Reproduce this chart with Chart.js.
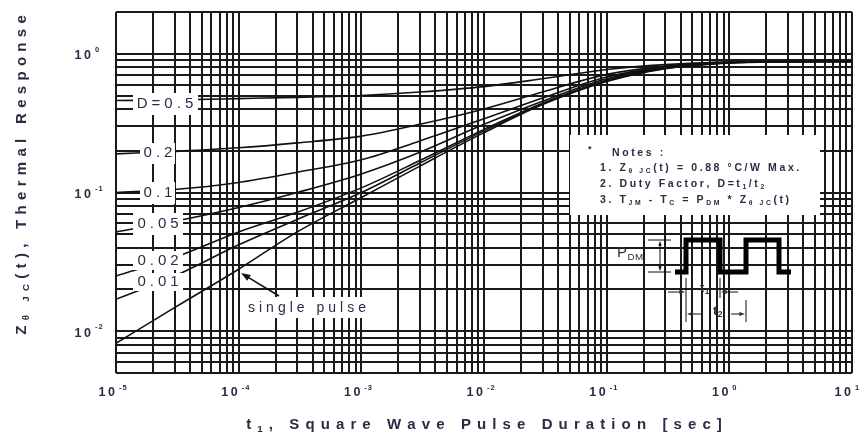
<!DOCTYPE html>
<html>
<head>
<meta charset="utf-8">
<script src="https://cdn.jsdelivr.net/npm/chart.js@4.4.0/dist/chart.umd.min.js"></script>
<style>
  html, body { margin: 0; padding: 0; background: #fff; }
  canvas { display: block; }
</style>
</head>
<body>
<canvas id="zth" width="861" height="439"></canvas>
<script>
// Transient thermal response

const pulseTimes = [1e-5, 3e-5, 1e-4, 3e-4, 1e-3, 3e-3, 1e-2, 3e-2, 1e-1, 3e-1, 1, 3, 10];

const zD05   = [0.46, 0.465, 0.475, 0.485, 0.50, 0.53, 0.58, 0.66, 0.77, 0.835, 0.872, 0.879, 0.88];
const zD02   = [0.19, 0.198, 0.21, 0.228, 0.255, 0.31, 0.40, 0.53, 0.71, 0.815, 0.87, 0.878, 0.88];
const zD01   = [0.10, 0.105, 0.118, 0.14, 0.172, 0.235, 0.34, 0.48, 0.68, 0.805, 0.867, 0.878, 0.88];
const zD005  = [0.052, 0.062, 0.078, 0.10, 0.136, 0.195, 0.31, 0.455, 0.66, 0.795, 0.865, 0.877, 0.88];
const zD002  = [0.025, 0.034, 0.052, 0.072, 0.108, 0.17, 0.285, 0.44, 0.645, 0.79, 0.862, 0.876, 0.88];
const zD001  = [0.017, 0.025, 0.042, 0.064, 0.10, 0.163, 0.278, 0.435, 0.64, 0.785, 0.86, 0.875, 0.88];
const zSingle = [0.0082, 0.0148, 0.028, 0.052, 0.092, 0.155, 0.27, 0.43, 0.63, 0.78, 0.858, 0.875, 0.88];

const seriesNames = ["D=0.5", "0.2", "0.1", "0.05", "0.02", "0.01", "single pulse"];
const seriesValues = [zD05, zD02, zD01, zD005, zD002, zD001, zSingle];

// decades that get a 10^n label
const xExponents = [-5, -4, -3, -2, -1, 0, 1];
const yExponents = [-2, -1, 0];
const xMin = 1e-5, xMax = 10;
const yMin = 0.005, yMax = 2;

const ink = "#2b2b45";
const FONT = '"Liberation Sans", Arial, sans-serif';

// gridlines at 1..9 x 10^n inside the axis range
function logGrid(min, max) {
  const out = [];
  for (let e = Math.floor(Math.log10(min)); e <= Math.ceil(Math.log10(max)); e++) {
    for (let m = 1; m <= 9; m++) {
      const v = Number((m * Math.pow(10, e)).toPrecision(6));
      if (v >= min * 0.999 && v <= max * 1.001) out.push(v);
    }
  }
  return out;
}

// text drawn char by char with spacing; runs are [text, "" | "sub" | "sup"]
function drawRuns(ctx, runs, x, y, o) {
  const size = o.size, sp = o.spacing || 0, weight = o.weight || "normal";
  const parts = runs.map(([text, kind]) => ({
    text,
    s: kind ? size * 0.65 : size,
    dy: kind === "sub" ? size * 0.32 : kind === "sup" ? -size * 0.42 : 0
  }));
  let total = 0;
  parts.forEach(p => {
    ctx.font = weight + " " + p.s + "px " + FONT;
    p.w = 0;
    for (const ch of p.text) p.w += ctx.measureText(ch).width + sp;
    total += p.w;
  });
  total -= sp;
  let cx = o.align === "center" ? x - total / 2 : o.align === "right" ? x - total : x;
  ctx.textBaseline = "middle";
  ctx.textAlign = "left";
  ctx.fillStyle = o.color || ink;
  parts.forEach(p => {
    ctx.font = weight + " " + p.s + "px " + FONT;
    for (const ch of p.text) {
      ctx.fillText(ch, cx, y + p.dy);
      cx += ctx.measureText(ch).width + sp;
    }
  });
}

function arrow(ctx, x1, y1, x2, y2, head, lw) {
  const a = Math.atan2(y2 - y1, x2 - x1);
  ctx.lineWidth = lw;
  ctx.beginPath();
  ctx.moveTo(x1, y1);
  ctx.lineTo(x2 - Math.cos(a) * head * 0.6, y2 - Math.sin(a) * head * 0.6);
  ctx.stroke();
  ctx.beginPath();
  ctx.moveTo(x2, y2);
  ctx.lineTo(x2 - head * Math.cos(a - 0.35), y2 - head * Math.sin(a - 0.35));
  ctx.lineTo(x2 - head * Math.cos(a + 0.35), y2 - head * Math.sin(a + 0.35));
  ctx.closePath();
  ctx.fill();
}

function line(ctx, x1, y1, x2, y2, lw) {
  ctx.lineWidth = lw;
  ctx.beginPath();
  ctx.moveTo(x1, y1);
  ctx.lineTo(x2, y2);
  ctx.stroke();
}

// curve labels: text, centre, white box behind
const curveTags = [
  { text: "D=0.5", x: 165, y: 104, box: [133, 93, 65, 22] },
  { text: "0.2", x: 158, y: 153, box: [140, 143, 35, 21] },
  { text: "0.1", x: 158, y: 193, box: [140, 182, 35, 22] },
  { text: "0.05", x: 158, y: 224, box: [133, 213, 50, 22] },
  { text: "0.02", x: 158, y: 261, box: [133, 251, 50, 19] },
  { text: "0.01", x: 158, y: 282, box: [133, 273, 50, 18] }
];

const annotate = {
  id: "annotate",
  beforeDraw(chart) {
    const ctx = chart.ctx;
    ctx.save();
    ctx.fillStyle = "#fff";
    ctx.fillRect(0, 0, chart.width, chart.height);
    ctx.restore();
  },
  afterDatasetsDraw(chart) {
    const ctx = chart.ctx;
    const xs = chart.scales.x, ys = chart.scales.y;
    ctx.save();

    // curve tags
    curveTags.forEach(t => {
      ctx.fillStyle = "#fff";
      ctx.fillRect(t.box[0], t.box[1], t.box[2], t.box[3]);
      drawRuns(ctx, [[t.text, ""]], t.x, t.y, { size: 15, spacing: 4, align: "center" });
    });

    // single pulse tag + arrow
    ctx.fillStyle = "#fff";
    ctx.fillRect(245, 297, 127, 21);
    drawRuns(ctx, [[seriesNames[6], ""]], 248, 308, { size: 14, spacing: 4 });
    ctx.strokeStyle = "#111";
    ctx.fillStyle = "#111";
    arrow(ctx, 279, 296, 241, 273, 10, 1.6);

    // notes box
    ctx.fillStyle = "#fff";
    ctx.fillRect(570, 135, 250, 80);
    drawRuns(ctx, [["*", ""]], 588, 150, { size: 9, weight: "bold" });
    const nf = { size: 10.5, spacing: 2.6, weight: "bold" };
    drawRuns(ctx, [["Notes :", ""]], 612, 153, nf);
    drawRuns(ctx, [["1. Z", ""], ["\u03b8 JC", "sub"], ["(t) = 0.88 \u00b0C/W Max.", ""]], 600, 168, nf);
    drawRuns(ctx, [["2. Duty Factor, D=t", ""], ["1", "sub"], ["/t", ""], ["2", "sub"]], 600, 184, nf);
    drawRuns(ctx, [["3. T", ""], ["JM", "sub"], [" - T", ""], ["C", "sub"], [" = P", ""], ["DM", "sub"],
                   [" * Z", ""], ["\u03b8 JC", "sub"], ["(t)", ""]], 600, 200, nf);

    // pulse train sketch
    ctx.strokeStyle = "#000";
    ctx.fillStyle = "#000";
    ctx.lineWidth = 5;
    ctx.lineJoin = "miter";
    ctx.beginPath();
    ctx.moveTo(675, 272);
    ctx.lineTo(686, 272); ctx.lineTo(686, 240); ctx.lineTo(720, 240); ctx.lineTo(720, 272);
    ctx.lineTo(746, 272); ctx.lineTo(746, 240); ctx.lineTo(779, 240); ctx.lineTo(779, 272);
    ctx.lineTo(791, 272);
    ctx.stroke();

    ctx.strokeStyle = "#111";
    ctx.fillStyle = "#111";
    line(ctx, 648, 240, 671, 240, 1);
    line(ctx, 648, 272, 671, 272, 1);
    arrow(ctx, 660, 256, 660, 241, 5, 1);
    arrow(ctx, 660, 256, 660, 271, 5, 1);
    drawRuns(ctx, [["P", ""], ["DM", "sub"]], 617, 253, { size: 15, spacing: 0.5 });

    line(ctx, 686, 278, 686, 322, 1);
    line(ctx, 720, 278, 720, 298, 1);
    line(ctx, 746, 300, 746, 322, 1);
    arrow(ctx, 668, 292, 685, 292, 6, 1);
    arrow(ctx, 738, 292, 721, 292, 6, 1);
    drawRuns(ctx, [["t", ""], ["1", "sub"]], 700, 288, { size: 13, spacing: 0.5, weight: "bold" });
    arrow(ctx, 701, 314, 687, 314, 6, 1);
    arrow(ctx, 731, 314, 745, 314, 6, 1);
    drawRuns(ctx, [["t", ""], ["2", "sub"]], 713, 311, { size: 13, spacing: 0.5, weight: "bold" });

    // tick labels 10^n
    const tf = { size: 12.5, spacing: 2.5, weight: "bold" };
    const sf = { size: 7.5, spacing: 1, weight: "bold" };
    xExponents.forEach(e => {
      const px = xs.getPixelForValue(Math.pow(10, e));
      drawRuns(ctx, [["10", ""]], px - 1, 393, Object.assign({ align: "right" }, tf));
      drawRuns(ctx, [[String(e), ""]], px + 3, 388, sf);
    });
    yExponents.forEach(e => {
      const py = ys.getPixelForValue(Math.pow(10, e));
      drawRuns(ctx, [["10", ""]], 91, py + 2, Object.assign({ align: "right" }, tf));
      drawRuns(ctx, [[String(e), ""]], 95, py - 4, sf);
    });

    // axis titles
    drawRuns(ctx, [["t", ""], ["1", "sub"], [", Square Wave Pulse Duration [sec]", ""]],
      (chart.chartArea.left + chart.chartArea.right) / 2, 425,
      { size: 15, spacing: 6.1, weight: "bold", align: "center" });
    ctx.translate(22, 175);
    ctx.rotate(-Math.PI / 2);
    drawRuns(ctx, [["Z", ""], ["\u03b8 JC", "sub"], ["(t), Thermal Response", ""]], 0, 0,
      { size: 15, spacing: 5.3, weight: "bold", align: "center" });

    ctx.restore();
  }
};

const xGrid = logGrid(xMin, xMax);
const yGrid = logGrid(yMin, yMax);

new Chart(document.getElementById("zth"), {
  type: "line",
  data: {
    datasets: seriesValues.map((vals, i) => ({
      label: seriesNames[i],
      data: pulseTimes.map((t, j) => ({ x: t, y: vals[j] })),
      borderColor: "#111",
      borderWidth: 1.6,
      pointRadius: 0,
      fill: false,
      cubicInterpolationMode: "monotone"
    }))
  },
  options: {
    responsive: false,
    animation: false,
    devicePixelRatio: 1,
    layout: { padding: { left: 116, right: 9, top: 12, bottom: 66 } },
    plugins: {
      legend: { display: false },
      tooltip: { enabled: false }
    },
    scales: {
      x: {
        type: "logarithmic",
        min: xMin,
        max: xMax,
        afterBuildTicks: axis => { axis.ticks = xGrid.map(v => ({ value: v })); },
        ticks: { display: false, autoSkip: false },
        grid: { color: "#1a1a1a", lineWidth: 2, drawTicks: false },
        border: { display: false }
      },
      y: {
        type: "logarithmic",
        min: yMin,
        max: yMax,
        afterBuildTicks: axis => { axis.ticks = yGrid.map(v => ({ value: v })); },
        ticks: { display: false, autoSkip: false },
        grid: { color: "#1a1a1a", lineWidth: 2, drawTicks: false },
        border: { display: false }
      }
    }
  },
  plugins: [annotate]
});
</script>
</body>
</html>
